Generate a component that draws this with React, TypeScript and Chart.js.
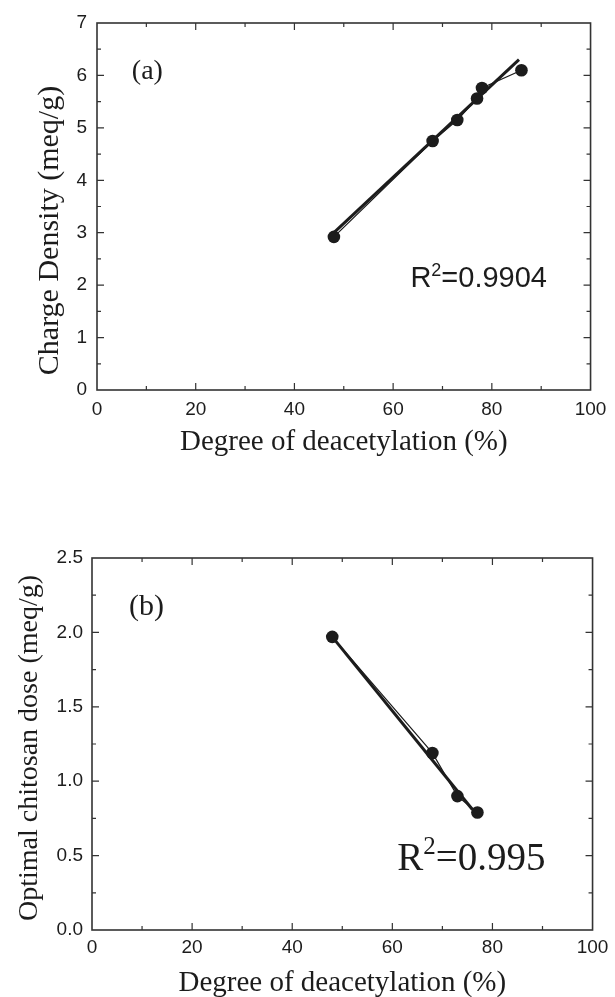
import { useEffect, useRef } from 'react';
import { Chart, registerables } from 'chart.js';

Chart.register(...registerables);

// Panel (a): charge density against degree of deacetylation
const degreeA = [48, 68, 73, 77, 78, 86];
const chargeDensity = [2.92, 4.75, 5.15, 5.56, 5.76, 6.1];
const fitDegreeA = [48, 85.5];
const fitChargeDensity = [3.0, 6.3];
const r2A = '=0.9904';

// Panel (b): optimal chitosan dose against degree of deacetylation
const degreeB = [48, 68, 73, 77];
const chitosanDose = [1.97, 1.19, 0.9, 0.79];
const fitDegreeB = [48, 76];
const fitDose = [1.97, 0.81];
const r2B = '=0.995';

// Axis ticks
const xTickValues = [0, 20, 40, 60, 80, 100];
const yTickValuesA = [0, 1, 2, 3, 4, 5, 6, 7];
const yTickValuesB = [0, 0.5, 1.0, 1.5, 2.0, 2.5];

const xTitle = 'Degree of deacetylation (%)';
const yTitleA = 'Charge Density (meq/g)';
const yTitleB = 'Optimal chitosan dose (meq/g)';

const SANS = '"Liberation Sans", Arial, sans-serif';
const SERIF = '"Liberation Serif", "Times New Roman", serif';
const INK = '#1c1c1c';

type Part = { text: string; size: number; family: string; rise?: number };
type Label = { x: number; y: number; align: 'left' | 'center'; parts: Part[] };
type PanelOpts = {
  labels: Label[];
  xTitle: string;
  xTitleOffset: number;
  yTitle: string;
  yTitleX: number;
  yTitleShift: number;
  yTitleSize: number;
  xMinor: number;
  yMinor: number;
};

const pairs = (xs: number[], ys: number[]) => xs.map((x, i) => ({ x, y: ys[i] }));

// Frame with inward major/minor ticks on all four sides, axis titles and in-plot text
const panelPlugin = {
  id: 'panel',
  beforeDatasetsDraw(chart: any, _args: any, opts: PanelOpts) {
    const { ctx, chartArea } = chart;
    const { left, right, top, bottom } = chartArea;
    const xs = chart.scales.x;
    const ys = chart.scales.y;
    ctx.save();
    ctx.strokeStyle = '#333';
    ctx.lineWidth = 1.6;
    ctx.strokeRect(left, top, right - left, bottom - top);
    ctx.lineWidth = 1.2;
    ctx.beginPath();
    const xVals: number[] = xs.ticks.map((t: any) => t.value);
    const yVals: number[] = ys.ticks.map((t: any) => t.value);
    const tickX = (v: number, len: number) => {
      const px = xs.getPixelForValue(v);
      ctx.moveTo(px, bottom);
      ctx.lineTo(px, bottom - len);
      ctx.moveTo(px, top);
      ctx.lineTo(px, top + len);
    };
    const tickY = (v: number, len: number) => {
      const py = ys.getPixelForValue(v);
      ctx.moveTo(left, py);
      ctx.lineTo(left + len, py);
      ctx.moveTo(right, py);
      ctx.lineTo(right - len, py);
    };
    xVals.forEach((v, i) => {
      if (i > 0 && i < xVals.length - 1) tickX(v, 7);
      if (i < xVals.length - 1) tickX(v + opts.xMinor, 4);
    });
    yVals.forEach((v, i) => {
      if (i > 0 && i < yVals.length - 1) tickY(v, 7);
      if (i < yVals.length - 1) tickY(v + opts.yMinor, 4);
    });
    ctx.stroke();

    // axis titles
    ctx.fillStyle = INK;
    ctx.textAlign = 'center';
    ctx.textBaseline = 'middle';
    ctx.font = `29px ${SERIF}`;
    ctx.fillText(opts.xTitle, (left + right) / 2, bottom + opts.xTitleOffset);
    ctx.save();
    ctx.translate(opts.yTitleX, (top + bottom) / 2 + opts.yTitleShift);
    ctx.rotate(-Math.PI / 2);
    ctx.font = `${opts.yTitleSize}px ${SERIF}`;
    ctx.fillText(opts.yTitle, 0, 0);
    ctx.restore();
    ctx.restore();
  },
  afterDraw(chart: any, _args: any, opts: PanelOpts) {
    const { ctx } = chart;
    const xs = chart.scales.x;
    const ys = chart.scales.y;
    ctx.save();
    ctx.fillStyle = INK;
    ctx.textBaseline = 'middle';
    ctx.textAlign = 'left';
    opts.labels.forEach((lab) => {
      const widths = lab.parts.map((p) => {
        ctx.font = `${p.size}px ${p.family}`;
        return ctx.measureText(p.text).width;
      });
      const total = widths.reduce((a, b) => a + b, 0);
      let px = xs.getPixelForValue(lab.x);
      const py = ys.getPixelForValue(lab.y);
      if (lab.align === 'center') px -= total / 2;
      lab.parts.forEach((p, i) => {
        ctx.font = `${p.size}px ${p.family}`;
        ctx.fillText(p.text, px, py - (p.rise || 0));
        px += widths[i];
      });
    });
    ctx.restore();
  },
};

function makeConfig(
  points: { x: number; y: number }[],
  fit: { x: number; y: number }[],
  yMax: number,
  yTicks: number[],
  yDecimals: number,
  layoutPad: { top: number; right: number },
  axisW: number,
  axisH: number,
  xPad: number,
  yPad: number,
  panel: PanelOpts
): any {
  const tickFont = { family: SANS, size: 19 };
  return {
    type: 'scatter',
    data: {
      datasets: [
        {
          label: 'Linear fit',
          data: fit,
          showLine: true,
          borderColor: INK,
          borderWidth: 3,
          pointRadius: 0,
        },
        {
          label: 'Measured',
          data: points,
          showLine: true,
          borderColor: INK,
          borderWidth: 1.2,
          pointRadius: 6.3,
          pointBackgroundColor: INK,
          pointBorderWidth: 0,
        },
      ],
    },
    options: {
      animation: false,
      responsive: false,
      devicePixelRatio: 1,
      layout: { padding: { top: layoutPad.top, right: layoutPad.right, left: 0, bottom: 0 } },
      plugins: {
        legend: { display: false },
        tooltip: { enabled: false },
        panel,
      },
      scales: {
        x: {
          type: 'linear',
          min: 0,
          max: 100,
          grid: { display: false, drawTicks: false },
          border: { display: false },
          ticks: { font: tickFont, color: INK, padding: xPad, maxRotation: 0 },
          afterBuildTicks: (s: any) => {
            s.ticks = xTickValues.map((value) => ({ value }));
          },
          afterFit: (s: any) => {
            s.height = axisH;
          },
        },
        y: {
          type: 'linear',
          min: 0,
          max: yMax,
          grid: { display: false, drawTicks: false },
          border: { display: false },
          ticks: {
            font: tickFont,
            color: INK,
            padding: yPad,
            callback: (v: number) => v.toFixed(yDecimals),
          },
          afterBuildTicks: (s: any) => {
            s.ticks = yTicks.map((value) => ({ value }));
          },
          afterFit: (s: any) => {
            s.width = axisW;
          },
        },
      },
    },
    plugins: [panelPlugin],
  };
}

export default function App() {
  const refA = useRef<HTMLCanvasElement>(null);
  const refB = useRef<HTMLCanvasElement>(null);

  useEffect(() => {
    const chartA = new Chart(
      refA.current!,
      makeConfig(
        pairs(degreeA, chargeDensity),
        pairs(fitDegreeA, fitChargeDensity),
        7,
        yTickValuesA,
        0,
        { top: 23, right: 20 },
        97,
        110,
        8.6,
        10,
        {
          labels: [
            { x: 10.2, y: 6.08, align: 'center', parts: [{ text: '(a)', size: 28, family: SERIF }] },
            {
              x: 63.5,
              y: 2.12,
              align: 'left',
              parts: [
                { text: 'R', size: 29, family: SANS },
                { text: '2', size: 18, family: SANS, rise: 8 },
                { text: r2A, size: 29, family: SANS },
              ],
            },
          ],
          xTitle,
          xTitleOffset: 52,
          yTitle: yTitleA,
          yTitleX: 50,
          yTitleShift: 24,
          yTitleSize: 30,
          xMinor: 10,
          yMinor: 0.5,
        }
      )
    );
    const chartB = new Chart(
      refB.current!,
      makeConfig(
        pairs(degreeB, chitosanDose),
        pairs(fitDegreeB, fitDose),
        2.5,
        yTickValuesB,
        1,
        { top: 58, right: 17 },
        92,
        67,
        6.6,
        9,
        {
          labels: [
            { x: 10.9, y: 2.17, align: 'center', parts: [{ text: '(b)', size: 30, family: SERIF }] },
            {
              x: 61,
              y: 0.47,
              align: 'left',
              parts: [
                { text: 'R', size: 39, family: SERIF },
                { text: '2', size: 25, family: SERIF, rise: 13 },
                { text: r2B, size: 39, family: SERIF },
              ],
            },
          ],
          xTitle,
          xTitleOffset: 53,
          yTitle: yTitleB,
          yTitleX: 30,
          yTitleShift: 4,
          yTitleSize: 28,
          xMinor: 10,
          yMinor: 0.25,
        }
      )
    );
    return () => {
      chartA.destroy();
      chartB.destroy();
    };
  }, []);

  return (
    <div style={{ position: 'absolute', left: 0, top: 0, width: 615, height: 997, background: '#fff' }}>
      <canvas
        ref={refA}
        width={615}
        height={500}
        style={{ position: 'absolute', left: 0, top: 0, width: 615, height: 500 }}
      />
      <canvas
        ref={refB}
        width={615}
        height={497}
        style={{ position: 'absolute', left: 0, top: 500, width: 615, height: 497 }}
      />
    </div>
  );
}
